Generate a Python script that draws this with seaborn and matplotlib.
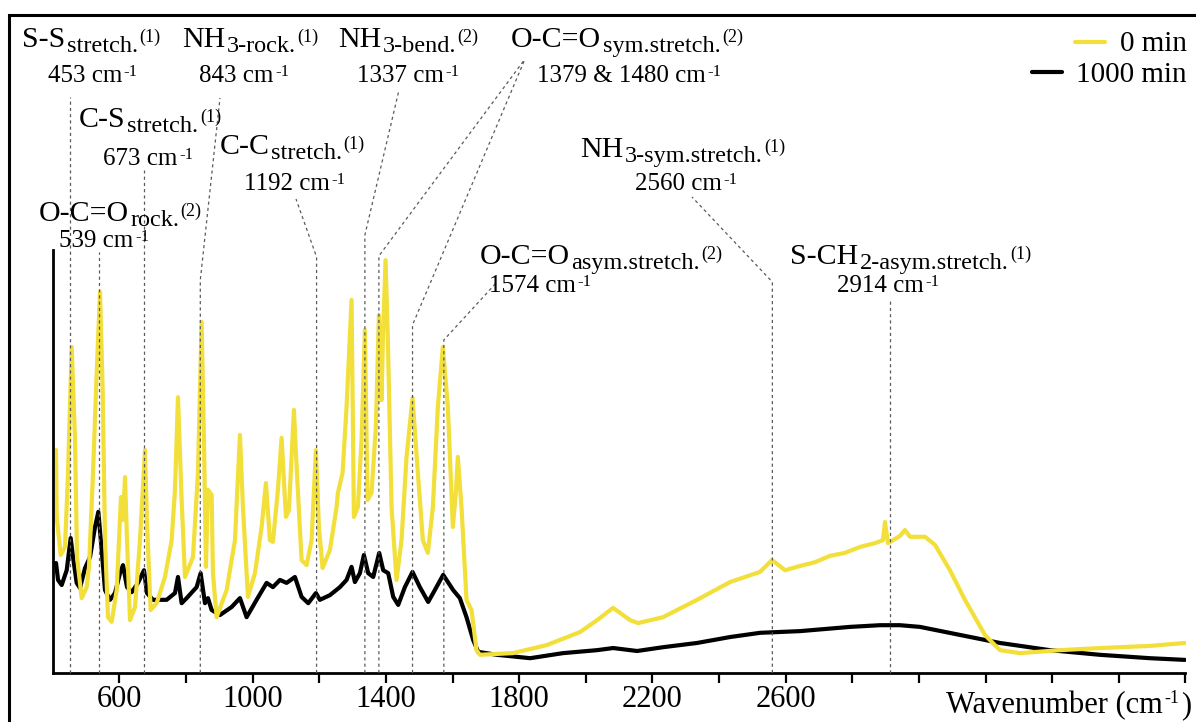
import pandas as pd
import matplotlib
matplotlib.use("Agg")
import matplotlib.pyplot as plt
import seaborn as sns
from matplotlib.lines import Line2D
from matplotlib.patches import Rectangle
from matplotlib.transforms import IdentityTransform

# =========================
# DATA
# =========================
wn_0min = [
    410, 412, 424, 437, 446, 457, 467, 473, 487, 502,
    509, 521, 532, 542, 550, 557, 566, 577, 592, 605,
    611, 617, 623, 632, 647, 662, 677, 683, 694, 712,
    737, 757, 767, 776, 787, 797, 821, 836, 847, 854,
    860, 866, 877, 881, 892, 922, 947, 962, 971, 986,
    1007, 1027, 1040, 1052, 1061, 1076, 1087, 1100, 1109, 1124,
    1133, 1147, 1162, 1177, 1190, 1199, 1210, 1232, 1252, 1256,
    1270, 1282, 1297, 1304, 1316, 1327, 1337, 1345, 1357, 1370,
    1379, 1387, 1391, 1399, 1406, 1417, 1432, 1447, 1462, 1480,
    1496, 1511, 1526, 1541, 1556, 1571, 1586, 1601, 1610, 1616,
    1627, 1642, 1657, 1672, 1682, 1781, 1883, 1983, 2034, 2082,
    2133, 2157, 2232, 2334, 2433, 2523, 2559, 2598, 2643, 2688,
    2733, 2778, 2823, 2868, 2892, 2898, 2907, 2943, 2958, 2973,
    3018, 3048, 3093, 3138, 3198, 3243, 3303, 3423, 3543, 3693, 3798,
]
int_0min = [
    52.7, 36.9, 27.9, 29.8, 47.3, 77.1, 55.1, 27.4, 17.7, 20.3,
    25.1, 47.3, 70.9, 90.1, 66.9, 31.4, 13.2, 12.1, 19.6, 41.6,
    36.2, 46.3, 31.4, 12.5, 15.6, 31.4, 52.7, 35.5, 14.9, 16.5,
    22.7, 31.4, 43.3, 65.2, 40.9, 22.7, 27.4, 47.3, 83.0, 55.1,
    25.1, 43.3, 42.1, 23.6, 13.2, 19.6, 31.4, 56.3, 39.2, 18.0,
    23.6, 34.5, 44.9, 31.4, 31.0, 43.3, 55.6, 36.9, 38.5, 62.2,
    47.3, 26.7, 25.5, 31.4, 52.7, 34.5, 24.8, 29.1, 39.2, 42.6,
    47.3, 62.9, 88.2, 36.9, 39.2, 55.1, 81.1, 40.9, 42.6, 58.2,
    84.6, 64.5, 78.7, 97.6, 78.7, 39.2, 22.0, 31.4, 51.1, 65.0,
    47.3, 31.4, 28.4, 39.2, 62.9, 77.1, 62.9, 34.5, 42.6, 51.1,
    39.2, 17.3, 14.9, 5.4, 4.3, 4.7, 6.6, 9.7, 12.5, 15.4,
    12.5, 11.8, 13.2, 17.3, 21.5, 23.9, 26.7, 24.3, 25.3, 26.2,
    27.7, 28.4, 29.8, 30.7, 31.4, 35.7, 30.7, 32.4, 33.8, 32.2,
    32.2, 30.3, 24.3, 17.3, 9.0, 5.4, 4.7, 5.4, 5.9, 6.4, 7.1,
]

wn_1000min = [
    410, 416, 427, 442, 454, 461, 472, 482, 497, 512,
    527, 537, 547, 557, 572, 587, 602, 611, 623, 637,
    656, 674, 683, 701, 742, 767, 776, 787, 802, 832,
    844, 857, 866, 877, 902, 937, 962, 982, 1012, 1042,
    1061, 1082, 1102, 1127, 1147, 1167, 1190, 1202, 1232, 1262,
    1282, 1297, 1307, 1322, 1334, 1347, 1362, 1380, 1392, 1407,
    1422, 1437, 1457, 1480, 1502, 1527, 1542, 1572, 1602, 1622,
    1642, 1662, 1677, 1733, 1833, 1932, 2034, 2082, 2154, 2232,
    2334, 2433, 2523, 2643, 2793, 2883, 2943, 3003, 3123, 3243,
    3393, 3543, 3693, 3798,
]
int_1000min = [
    26.0, 22.0, 20.8, 24.3, 31.9, 27.4, 21.3, 20.1, 24.8, 27.4,
    34.5, 38.1, 29.1, 19.6, 17.3, 18.9, 23.6, 25.5, 20.3, 19.1,
    21.3, 24.3, 18.9, 17.3, 17.3, 18.9, 22.7, 16.5, 17.7, 20.3,
    23.6, 16.5, 17.7, 14.9, 13.7, 15.6, 17.7, 13.2, 17.3, 21.3,
    20.3, 22.0, 21.3, 22.7, 18.0, 16.5, 18.9, 17.3, 18.4, 20.3,
    22.0, 25.1, 21.5, 23.6, 27.9, 23.6, 22.7, 28.4, 24.3, 23.6,
    18.0, 16.1, 20.3, 23.9, 20.3, 16.8, 18.9, 23.2, 19.6, 17.7,
    13.2, 7.8, 5.0, 4.3, 3.5, 4.7, 5.4, 5.9, 5.2, 6.1,
    7.1, 8.5, 9.5, 9.9, 10.9, 11.3, 11.3, 10.9, 9.0, 7.1,
    5.4, 4.3, 3.5, 3.1,
]

series_names = ["0 min", "1000 min"]

# band assignments: main text, subscript, reference, position
band_main = ["S-S", "NH", "NH", "O-C=O", "C-S", "C-C", "NH", "O-C=O", "O-C=O", "S-CH"]
band_sub = ["stretch.", "3-rock.", "3-bend.", "sym.stretch.", "stretch.", "stretch.",
            "3-sym.stretch.", "rock.", "asym.stretch.", "2-asym.stretch."]
band_ref = ["(1)", "(1)", "(2)", "(2)", "(1)", "(1)", "(1)", "(2)", "(2)", "(1)"]
band_pos = ["453", "843", "1337", "1379 & 1480", "673", "1192", "2560", "539", "1574", "2914"]

# marked wavenumbers (dotted guide lines)
marker_wn = [453, 539, 673, 843, 1192, 1337, 1379, 1480, 1574, 2560, 2914]

tick_labeled = [600, 1000, 1400, 1800, 2200, 2600]

# =========================
# STYLE
# =========================
sns.set_theme(style="white")
plt.rcParams["font.family"] = ["Liberation Serif", "DejaVu Serif"]

W, H = 1196, 722
yellow = "#f2df3a"

fig = plt.figure(figsize=(W / 100, H / 100), dpi=100)
ax = fig.add_axes([52.7 / W, (H - 673) / H, (1185.5 - 52.7) / W, (673 - 250) / H])

df = pd.concat([
    pd.DataFrame({"Wavenumber": wn_0min, "Intensity": int_0min, "Time": series_names[0]}),
    pd.DataFrame({"Wavenumber": wn_1000min, "Intensity": int_1000min, "Time": series_names[1]}),
])

sns.lineplot(
    data=df, x="Wavenumber", y="Intensity", hue="Time",
    hue_order=[series_names[1], series_names[0]],
    palette={series_names[0]: yellow, series_names[1]: "black"},
    sort=False, estimator=None, linewidth=3.0, legend=False, ax=ax
)

ax.set_xlim(400, 3800)
ax.set_ylim(0, 100)
ax.set_xlabel("")
ax.set_ylabel("")
ax.set_yticks([])
ticks = list(range(600, 3801, 200))
ax.set_xticks(ticks)
ax.set_xticklabels([str(t) if t in tick_labeled else "" for t in ticks])
ax.tick_params(axis="x", bottom=True, direction="out", length=7, width=1.6,
               labelsize=22, pad=1.5, color="black", labelcolor="black")
for side in ["top", "right"]:
    ax.spines[side].set_visible(False)
for side in ["left", "bottom"]:
    ax.spines[side].set_linewidth(2)
    ax.spines[side].set_color("black")

renderer = fig.canvas.get_renderer()


def draw_parts(x, base_y, parts, align="center"):
    # parts: (text, size, baseline shift in px)
    items = []
    for s, size, dy in parts:
        t = fig.text(0, 0, s, fontsize=size, ha="left", va="baseline",
                     color="black", transform=IdentityTransform())
        items.append((t, dy))
    widths = [t.get_window_extent(renderer).width for t, _ in items]
    total = sum(widths) + 1.5 * (len(widths) - 1)
    left = x - total / 2 if align == "center" else x - total
    for (t, dy), w in zip(items, widths):
        t.set_position((left, H - base_y + dy))
        left += w + 1.5


# =========================
# BAND LABELS
# =========================
# (x line1, baseline line1, x line2, baseline line2) in pixels
label_xy = [
    (91.5, 47, 92.5, 82), (250, 47, 244, 82), (408, 47, 408, 82), (627, 47, 629, 82),
    (150, 127, 148, 165), (292, 154, 295, 190), (683, 157, 686, 190),
    (120, 221, 104, 247), (601, 264, 540, 292), (911, 264, 888, 292),
]

for main, sub, ref, pos, (x1, b1, x2, b2) in zip(band_main, band_sub, band_ref, band_pos, label_xy):
    draw_parts(x1, b1, [(main, 21.5, 0), (sub, 17.5, -5), (ref, 13, 5)])
    draw_parts(x2, b2, [(pos + " cm", 18, 0), ("-1", 12, 6)])

# guide lines: bend height, end point (pixels)
leader_path = [
    (97, None), (252, None), (170, None), (280, (220, 98)), (257, (296, 199)),
    (235, (399, 90)), (256, (525, 59)), (325, (525, 59)), (340, (497, 282)),
    (282, (692, 197)), (300, None),
]

for wn, (bend_y, end) in zip(marker_wn, leader_path):
    x0 = ax.transData.transform((wn, 0))[0]
    xs = [x0, x0]
    ys = [H - 673, H - bend_y]
    if end is not None:
        xs.append(end[0])
        ys.append(H - end[1])
    fig.add_artist(Line2D(xs, ys, transform=IdentityTransform(), color="#5a5a5a",
                          lw=0.9, ls=(0, (2.5, 2.5)), zorder=0.5))

# =========================
# X LABEL AND LEGEND
# =========================
draw_parts(1191, 713, [("Wavenumber (cm", 22, 0), ("-1", 13, 10), (")", 22, 0)], align="right")

draw_parts(1187, 51, [(series_names[0], 21, 0)], align="right")
draw_parts(1187, 82, [(series_names[1], 21, 0)], align="right")
fig.add_artist(Line2D([1075, 1105], [H - 42, H - 42], transform=IdentityTransform(),
                      color=yellow, lw=3))
fig.add_artist(Line2D([1032, 1062], [H - 72, H - 72], transform=IdentityTransform(),
                      color="black", lw=3))

# outer frame
fig.add_artist(Rectangle((9, -10), W + 20, H - 14.5 + 10, fill=False, lw=2.2,
                         edgecolor="black", transform=IdentityTransform()))

fig.savefig("out.png", dpi=100)
plt.close(fig)
